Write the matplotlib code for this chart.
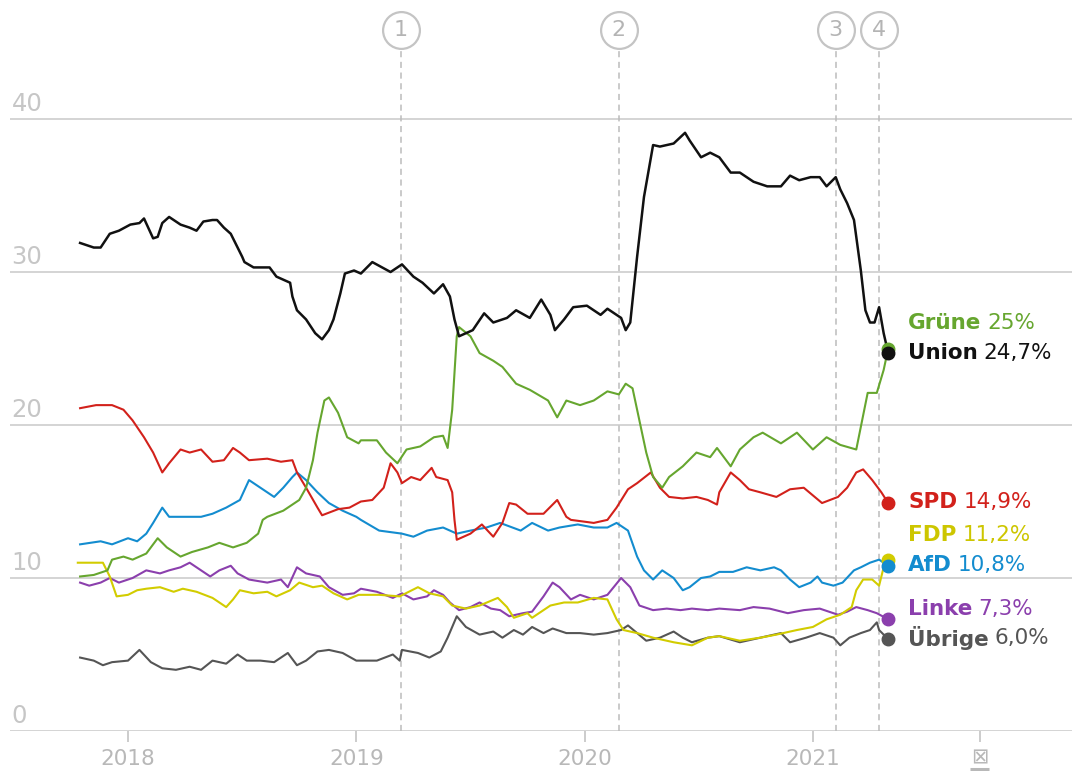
import matplotlib
matplotlib.use('Agg')
import matplotlib.pyplot as plt

plt.rcParams['font.family'] = ['DejaVu Sans']

# smoothed poll averages, x in decimal years
union_t = [2017.79, 2017.85, 2017.88, 2017.92, 2017.96, 2018.01, 2018.05, 2018.07, 2018.11, 2018.13,
           2018.15, 2018.18, 2018.23, 2018.27, 2018.30, 2018.33, 2018.37, 2018.39, 2018.42, 2018.45,
           2018.48, 2018.50, 2018.51, 2018.55, 2018.59, 2018.62, 2018.65, 2018.68, 2018.71, 2018.72,
           2018.74, 2018.78, 2018.82, 2018.85, 2018.88, 2018.90, 2018.93, 2018.95, 2018.99, 2019.02,
           2019.07, 2019.15, 2019.20, 2019.25, 2019.29, 2019.34, 2019.38, 2019.41, 2019.43, 2019.45,
           2019.48, 2019.51, 2019.56, 2019.60, 2019.66, 2019.70, 2019.76, 2019.81, 2019.85, 2019.87,
           2019.91, 2019.95, 2020.01, 2020.07, 2020.10, 2020.16, 2020.18, 2020.20, 2020.23, 2020.26,
           2020.30, 2020.33, 2020.39, 2020.44, 2020.46, 2020.51, 2020.55, 2020.59, 2020.64, 2020.68,
           2020.74, 2020.80, 2020.86, 2020.90, 2020.94, 2020.99, 2021.03, 2021.06, 2021.10, 2021.12,
           2021.15, 2021.18, 2021.20, 2021.21, 2021.23, 2021.25, 2021.27, 2021.29, 2021.31, 2021.33]
union_v = [31.9, 31.6, 31.6, 32.5, 32.7, 33.1, 33.2, 33.5, 32.2, 32.3,
           33.2, 33.6, 33.1, 32.9, 32.7, 33.3, 33.4, 33.4, 32.9, 32.5,
           31.6, 31.0, 30.65, 30.3, 30.3, 30.3, 29.7, 29.5, 29.3, 28.4,
           27.5, 26.9, 26.0, 25.6, 26.2, 26.9, 28.6, 29.9, 30.1, 29.9,
           30.65, 30.0, 30.5, 29.7, 29.3, 28.6, 29.2, 28.4, 26.9, 25.8,
           26.0, 26.2, 27.3, 26.7, 27.0, 27.5, 27.0, 28.2, 27.2, 26.2,
           26.9, 27.7, 27.8, 27.2, 27.6, 27.0, 26.2, 26.7, 31.0, 34.9,
           38.3, 38.2, 38.4, 39.1, 38.6, 37.5, 37.8, 37.5, 36.5, 36.5,
           35.9, 35.6, 35.6, 36.3, 36.0, 36.2, 36.2, 35.6, 36.2, 35.4,
           34.5, 33.4, 31.2, 30.1, 27.5, 26.7, 26.7, 27.7, 26.0, 24.7]

gruene_t = [2017.79, 2017.85, 2017.91, 2017.93, 2017.98, 2018.02, 2018.08, 2018.13, 2018.17, 2018.23,
            2018.28, 2018.35, 2018.40, 2018.46, 2018.52, 2018.57, 2018.59, 2018.61, 2018.68, 2018.75,
            2018.78, 2018.81, 2018.83, 2018.86, 2018.88, 2018.92, 2018.96, 2019.01, 2019.02, 2019.09,
            2019.13, 2019.18, 2019.22, 2019.28, 2019.34, 2019.38, 2019.40, 2019.42, 2019.44, 2019.45,
            2019.50, 2019.54, 2019.60, 2019.64, 2019.70, 2019.76, 2019.84, 2019.88, 2019.92, 2019.98,
            2020.04, 2020.10, 2020.15, 2020.18, 2020.21, 2020.24, 2020.27, 2020.30, 2020.34, 2020.37,
            2020.43, 2020.49, 2020.55, 2020.58, 2020.64, 2020.68, 2020.74, 2020.78, 2020.86, 2020.93,
            2021.00, 2021.06, 2021.12, 2021.19, 2021.24, 2021.28, 2021.31, 2021.33]
gruene_v = [10.1, 10.2, 10.5, 11.2, 11.4, 11.2, 11.6, 12.6, 12.0, 11.4,
            11.7, 12.0, 12.3, 12.0, 12.3, 12.9, 13.8, 14.0, 14.4, 15.1,
            15.9, 17.7, 19.5, 21.6, 21.8, 20.8, 19.2, 18.8, 19.0, 19.0,
            18.2, 17.5, 18.4, 18.6, 19.2, 19.3, 18.5, 21.0, 25.8, 26.4,
            25.8, 24.7, 24.2, 23.8, 22.7, 22.3, 21.6, 20.5, 21.6, 21.3,
            21.6, 22.2, 22.0, 22.7, 22.4, 20.3, 18.2, 16.6, 15.9, 16.6,
            17.3, 18.2, 17.9, 18.5, 17.3, 18.4, 19.2, 19.5, 18.8, 19.5,
            18.4, 19.2, 18.7, 18.4, 22.1, 22.1, 23.6, 25.0]

spd_t = [2017.79, 2017.86, 2017.93, 2017.98, 2018.02, 2018.07, 2018.11, 2018.15, 2018.18, 2018.23,
         2018.27, 2018.32, 2018.37, 2018.42, 2018.46, 2018.49, 2018.53, 2018.61, 2018.67, 2018.72,
         2018.74, 2018.78, 2018.83, 2018.85, 2018.92, 2018.97, 2019.02, 2019.07, 2019.12, 2019.15,
         2019.18, 2019.20, 2019.24, 2019.28, 2019.33, 2019.35, 2019.40, 2019.42, 2019.43, 2019.44,
         2019.50, 2019.55, 2019.60, 2019.64, 2019.67, 2019.70, 2019.75, 2019.82, 2019.88, 2019.92,
         2019.94, 2020.04, 2020.10, 2020.14, 2020.19, 2020.23, 2020.29, 2020.33, 2020.37, 2020.43,
         2020.49, 2020.54, 2020.58, 2020.59, 2020.64, 2020.68, 2020.72, 2020.77, 2020.84, 2020.90,
         2020.96, 2021.00, 2021.04, 2021.11, 2021.15, 2021.19, 2021.22, 2021.26, 2021.30, 2021.33]
spd_v = [21.1, 21.3, 21.3, 21.0, 20.3, 19.2, 18.2, 16.9, 17.5, 18.4,
         18.2, 18.4, 17.6, 17.7, 18.5, 18.2, 17.7, 17.8, 17.6, 17.7,
         16.9, 15.9, 14.6, 14.1, 14.5, 14.6, 15.0, 15.1, 15.9, 17.5,
         16.9, 16.2, 16.6, 16.4, 17.2, 16.6, 16.4, 15.6, 13.8, 12.5,
         12.9, 13.5, 12.7, 13.6, 14.9, 14.8, 14.2, 14.2, 15.1, 14.0,
         13.8, 13.6, 13.8, 14.6, 15.8, 16.2, 16.9, 15.9, 15.3, 15.2,
         15.3, 15.1, 14.8, 15.6, 16.9, 16.4, 15.8, 15.6, 15.3, 15.8,
         15.9, 15.4, 14.9, 15.3, 15.9, 16.9, 17.1, 16.4, 15.6, 14.9]

afd_t = [2017.79, 2017.88, 2017.93, 2018.00, 2018.04, 2018.08, 2018.11, 2018.15, 2018.18, 2018.26,
         2018.32, 2018.37, 2018.43, 2018.49, 2018.53, 2018.58, 2018.64, 2018.68, 2018.72, 2018.74,
         2018.78, 2018.83, 2018.88, 2018.94, 2019.00, 2019.02, 2019.10, 2019.20, 2019.25, 2019.31,
         2019.38, 2019.44, 2019.50, 2019.57, 2019.63, 2019.72, 2019.77, 2019.84, 2019.89, 2019.97,
         2020.04, 2020.10, 2020.14, 2020.19, 2020.23, 2020.26, 2020.30, 2020.34, 2020.39, 2020.43,
         2020.46, 2020.51, 2020.55, 2020.59, 2020.65, 2020.71, 2020.77, 2020.83, 2020.86, 2020.90,
         2020.94, 2020.99, 2021.02, 2021.04, 2021.09, 2021.13, 2021.18, 2021.21, 2021.25, 2021.29,
         2021.33]
afd_v = [12.2, 12.4, 12.2, 12.6, 12.4, 12.9, 13.6, 14.6, 14.0, 14.0,
         14.0, 14.2, 14.6, 15.1, 16.4, 15.9, 15.3, 15.9, 16.6, 16.9,
         16.4, 15.6, 14.9, 14.4, 14.0, 13.8, 13.1, 12.9, 12.7, 13.1,
         13.3, 12.9, 13.1, 13.3, 13.6, 13.1, 13.6, 13.1, 13.3, 13.5,
         13.3, 13.3, 13.6, 13.1, 11.4, 10.5, 9.9, 10.5, 10.0, 9.2,
         9.4, 10.0, 10.1, 10.4, 10.4, 10.7, 10.5, 10.7, 10.5, 9.9,
         9.4, 9.7, 10.1, 9.7, 9.5, 9.7, 10.5, 10.7, 11.0, 11.2,
         10.8]

fdp_t = [2017.78, 2017.83, 2017.89, 2017.92, 2017.95, 2018.00, 2018.04, 2018.08, 2018.14, 2018.20,
         2018.24, 2018.30, 2018.37, 2018.43, 2018.46, 2018.49, 2018.55, 2018.61, 2018.65, 2018.71,
         2018.75, 2018.81, 2018.85, 2018.90, 2018.96, 2019.01, 2019.10, 2019.19, 2019.27, 2019.32,
         2019.38, 2019.42, 2019.48, 2019.54, 2019.62, 2019.66, 2019.69, 2019.75, 2019.77, 2019.85,
         2019.91, 2019.97, 2020.04, 2020.10, 2020.14, 2020.17, 2020.23, 2020.30, 2020.39, 2020.47,
         2020.54, 2020.59, 2020.68, 2020.77, 2020.84, 2020.93, 2021.00, 2021.06, 2021.12, 2021.17,
         2021.19, 2021.22, 2021.26, 2021.29, 2021.31, 2021.33]
fdp_v = [11.0, 11.0, 11.0, 10.1, 8.8, 8.9, 9.2, 9.3, 9.4, 9.1,
         9.3, 9.1, 8.7, 8.1, 8.6, 9.2, 9.0, 9.1, 8.8, 9.2,
         9.7, 9.4, 9.5, 9.0, 8.6, 8.9, 8.9, 8.8, 9.4, 9.0,
         8.8, 8.2, 8.0, 8.2, 8.7, 8.1, 7.4, 7.7, 7.4, 8.2,
         8.4, 8.4, 8.7, 8.6, 7.3, 6.6, 6.4, 6.1, 5.8, 5.6,
         6.1, 6.2, 5.9, 6.1, 6.3, 6.6, 6.8, 7.3, 7.6, 8.1,
         9.2, 9.9, 9.9, 9.5, 10.7, 11.2]

linke_t = [2017.79, 2017.83, 2017.88, 2017.92, 2017.96, 2018.02, 2018.08, 2018.14, 2018.18, 2018.23,
           2018.27, 2018.32, 2018.36, 2018.40, 2018.45, 2018.48, 2018.53, 2018.61, 2018.67, 2018.70,
           2018.74, 2018.78, 2018.84, 2018.88, 2018.94, 2018.99, 2019.02, 2019.09, 2019.16, 2019.20,
           2019.25, 2019.31, 2019.34, 2019.38, 2019.41, 2019.45, 2019.50, 2019.54, 2019.59, 2019.63,
           2019.67, 2019.73, 2019.77, 2019.82, 2019.86, 2019.89, 2019.94, 2019.98, 2020.04, 2020.10,
           2020.16, 2020.20, 2020.24, 2020.30, 2020.36, 2020.42, 2020.47, 2020.54, 2020.59, 2020.68,
           2020.74, 2020.81, 2020.89, 2020.96, 2021.03, 2021.11, 2021.15, 2021.19, 2021.24, 2021.28,
           2021.33]
linke_v = [9.7, 9.5, 9.7, 10.0, 9.7, 10.0, 10.5, 10.3, 10.5, 10.7,
           11.0, 10.5, 10.1, 10.5, 10.8, 10.3, 9.9, 9.7, 9.9, 9.4,
           10.7, 10.3, 10.1, 9.4, 8.9, 9.0, 9.3, 9.1, 8.7, 9.0,
           8.6, 8.8, 9.2, 8.9, 8.4, 7.9, 8.1, 8.4, 8.0, 7.9,
           7.5, 7.7, 7.8, 8.8, 9.7, 9.4, 8.6, 8.9, 8.6, 8.9,
           10.0, 9.4, 8.2, 7.9, 8.0, 7.9, 8.0, 7.9, 8.0, 7.9,
           8.1, 8.0, 7.7, 7.9, 8.0, 7.6, 7.8, 8.1, 7.9, 7.7,
           7.3]

uebrige_t = [2017.79, 2017.85, 2017.89, 2017.93, 2018.00, 2018.05, 2018.10, 2018.15, 2018.21, 2018.27,
             2018.32, 2018.37, 2018.43, 2018.48, 2018.52, 2018.58, 2018.64, 2018.70, 2018.74, 2018.78,
             2018.83, 2018.88, 2018.94, 2019.00, 2019.09, 2019.16, 2019.19, 2019.20, 2019.27, 2019.32,
             2019.37, 2019.40, 2019.44, 2019.48, 2019.54, 2019.60, 2019.64, 2019.69, 2019.73, 2019.77,
             2019.82, 2019.86, 2019.92, 2019.98, 2020.04, 2020.10, 2020.16, 2020.19, 2020.23, 2020.27,
             2020.33, 2020.39, 2020.43, 2020.47, 2020.54, 2020.59, 2020.68, 2020.77, 2020.86, 2020.90,
             2020.97, 2021.03, 2021.09, 2021.12, 2021.16, 2021.21, 2021.25, 2021.28, 2021.29, 2021.33]
uebrige_v = [4.8, 4.6, 4.3, 4.5, 4.6, 5.3, 4.5, 4.1, 4.0, 4.2,
             4.0, 4.6, 4.4, 5.0, 4.6, 4.6, 4.5, 5.1, 4.3, 4.6,
             5.2, 5.3, 5.1, 4.6, 4.6, 5.0, 4.6, 5.3, 5.1, 4.8,
             5.2, 6.1, 7.5, 6.8, 6.3, 6.5, 6.1, 6.6, 6.3, 6.8,
             6.4, 6.7, 6.4, 6.4, 6.3, 6.4, 6.6, 6.9, 6.4, 5.9,
             6.1, 6.5, 6.1, 5.8, 6.1, 6.2, 5.8, 6.1, 6.4, 5.8,
             6.1, 6.4, 6.1, 5.6, 6.1, 6.4, 6.6, 7.1, 6.6, 6.0]

parties = ['Übrige', 'Linke', 'FDP', 'AfD', 'SPD', 'Grüne', 'Union']
values_txt = ['6,0%', '7,3%', '11,2%', '10,8%', '14,9%', '25%', '24,7%']
label_y = [6.1, 8.0, 12.8, 10.85, 15.0, 26.7, 24.7]
colors = ['#555555', '#8b3fad', '#d2cc00', '#138ccf', '#d2211b', '#66a62f', '#111111']
text_colors = ['#555555', '#8b3fad', '#cdc600', '#138ccf', '#d2211b', '#66a62f', '#111111']
series = [(uebrige_t, uebrige_v), (linke_t, linke_v), (fdp_t, fdp_v), (afd_t, afd_v),
          (spd_t, spd_v), (gruene_t, gruene_v), (union_t, union_v)]

events = [2019.196, 2020.15, 2021.10, 2021.29]
event_labels = ['1', '2', '3', '4']
election = 2021.73

years = [2018, 2019, 2020, 2021]
grid_vals = [0, 10, 20, 30, 40]

fig = plt.figure(figsize=(10.72, 7.71), dpi=100)
ax = fig.add_axes([10 / 1072, 40 / 771, 1062 / 1072, 731 / 771])
ax.set_xlim(2017.483, 2022.135)
ax.set_ylim(0, 47.78)
for s in ax.spines.values():
    s.set_visible(False)
ax.set_yticks([])

for g in grid_vals:
    ax.axhline(g, color='#d4d4d4', lw=1.4, zorder=1)
    ax.text(2017.49, g + 0.5, str(g), fontsize=17.5, color='#c6c6c6', va='baseline', ha='left')

ax.set_xticks(years + [election])
ax.set_xticklabels([str(y) for y in years] + [''])
ax.tick_params(axis='x', length=8, width=1.4, color='#cccccc', labelsize=15.5,
               labelcolor='#b8b8b8', pad=5)

# ballot box icon at election day
ax.text(election, -1.75, '⊠', fontsize=15, color='#b8b8b8', ha='center', va='center',
        clip_on=False)
ax.plot([election - 0.042, election + 0.042], [-2.5, -2.5], color='#b8b8b8', lw=2.2,
        clip_on=False, solid_capstyle='butt')

for t, lab in zip(events, event_labels):
    ax.plot([t, t], [0, 44.5], ls=(0, (4, 3)), color='#bcbcbc', lw=1.1, zorder=1)
    ax.plot(t, 45.85, 'o', ms=26.5, mfc='white', mec='#c4c4c4', mew=1.6, clip_on=False, zorder=3)
    ax.text(t, 45.8, lab, fontsize=16, color='#b4b4b4', ha='center', va='center', zorder=4)

for (t, v), c in zip(series, colors):
    lw = 1.8 if c == '#111111' else 1.5
    ax.plot(t, v, color=c, lw=lw, zorder=5, solid_joinstyle='round')
for (t, v), c in zip(series, colors):
    ax.plot(t[-1], v[-1], 'o', ms=9, color=c, zorder=6)

lx = 2021.417
name_texts = []
for name, yv, c in zip(parties, label_y, text_colors):
    tx = ax.text(lx, yv, name, fontsize=15.5, fontweight='bold', color=c, va='center', ha='left')
    name_texts.append(tx)

fig.canvas.draw()
renderer = fig.canvas.get_renderer()
inv = ax.transData.inverted()
for tx, val, yv, c in zip(name_texts, values_txt, label_y, text_colors):
    bb = tx.get_window_extent(renderer)
    x_end = inv.transform((bb.x1 + 6, bb.y0))[0]
    ax.text(x_end, yv, val, fontsize=15.5, color=c, va='center', ha='left')

fig.savefig('out.png', dpi=100)
